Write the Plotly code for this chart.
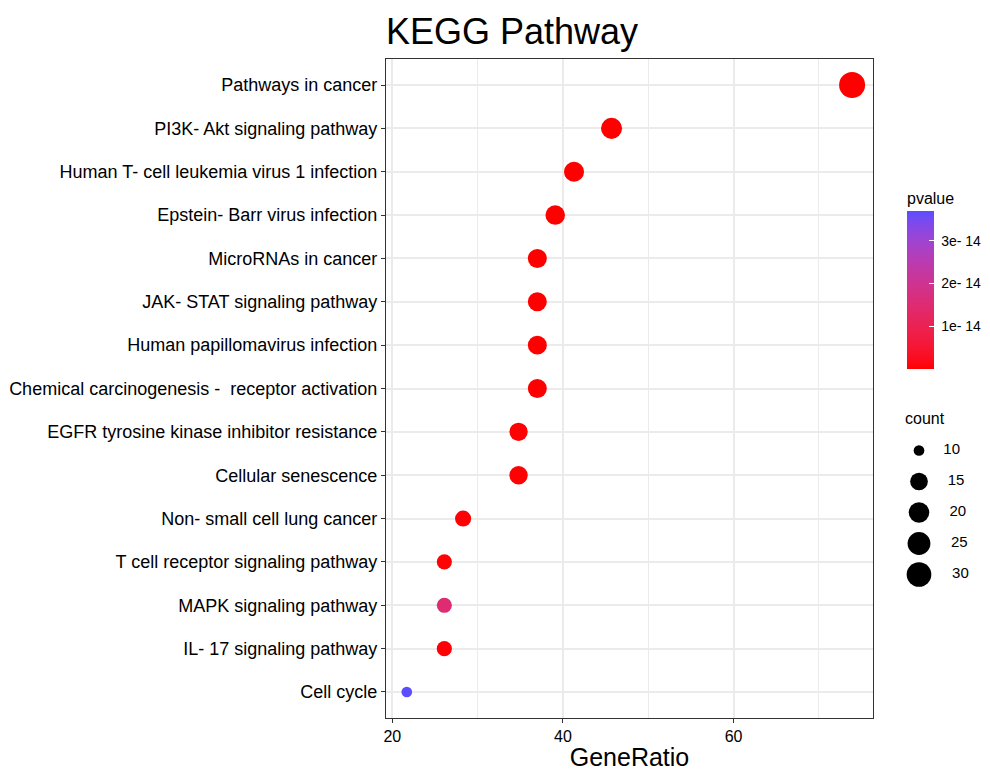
import plotly.graph_objects as go
import numpy as np

# ---------------- data ----------------
pathways = [
    "Pathways in cancer",
    "PI3K- Akt signaling pathway",
    "Human T- cell leukemia virus 1 infection",
    "Epstein- Barr virus infection",
    "MicroRNAs in cancer",
    "JAK- STAT signaling pathway",
    "Human papillomavirus infection",
    "Chemical carcinogenesis -  receptor activation",
    "EGFR tyrosine kinase inhibitor resistance",
    "Cellular senescence",
    "Non- small cell lung cancer",
    "T cell receptor signaling pathway",
    "MAPK signaling pathway",
    "IL- 17 signaling pathway",
    "Cell cycle",
]
gene_ratio = [73.9, 45.7, 41.3, 39.1, 37.0, 37.0, 37.0, 37.0, 34.8, 34.8, 28.3, 26.1, 26.1, 26.1, 21.7]
count = [34, 21, 19, 18, 17, 17, 17, 17, 16, 16, 13, 12, 12, 12, 10]
pvalue = [1e-25, 2e-17, 5e-17, 8e-17, 2e-17, 6e-17, 9e-17, 1e-16, 1.5e-16, 2e-16,
          3e-16, 4e-16, 1.5e-14, 3e-16, 3.7e-14]

legend_counts = [10, 15, 20, 25, 30]
cbar_ticks = [1e-14, 2e-14, 3e-14]
cbar_ticktext = ["1e- 14", "2e- 14", "3e- 14"]

# ---------------- styling helpers ----------------
LOW = (255, 0, 0)
HIGH = (90, 78, 255)

def _lin(c):
    c = c / 255.0
    return ((c + 0.055) / 1.055) ** 2.4 if c > 0.04045 else c / 12.92

def _gam(c):
    c = 1.055 * c ** (1 / 2.4) - 0.055 if c > 0.0031308 else 12.92 * c
    return max(0, min(255, round(c * 255)))

def rgb2lab(rgb):
    r, g, b = [_lin(v) for v in rgb]
    x = (0.4124 * r + 0.3576 * g + 0.1805 * b) / 0.95047
    y = (0.2126 * r + 0.7152 * g + 0.0722 * b)
    z = (0.0193 * r + 0.1192 * g + 0.9505 * b) / 1.08883
    f = lambda t: t ** (1 / 3) if t > 0.008856 else 7.787 * t + 16 / 116
    fx, fy, fz = f(x), f(y), f(z)
    return (116 * fy - 16, 500 * (fx - fy), 200 * (fy - fz))

def lab2rgb(lab):
    L, a, bb = lab
    fy = (L + 16) / 116
    fx = fy + a / 500
    fz = fy - bb / 200
    finv = lambda t: t ** 3 if t ** 3 > 0.008856 else (t - 16 / 116) / 7.787
    x, y, z = finv(fx) * 0.95047, finv(fy), finv(fz) * 1.08883
    r = 3.2406 * x - 1.5372 * y - 0.4986 * z
    g = -0.9689 * x + 1.8758 * y + 0.0415 * z
    b = 0.0557 * x - 0.2040 * y + 1.0570 * z
    return tuple(_gam(max(0, v)) for v in (r, g, b))

l1, l2 = rgb2lab(LOW), rgb2lab(HIGH)
colorscale = []
for t in np.linspace(0, 1, 21):
    lab = tuple(l1[i] + (l2[i] - l1[i]) * t for i in range(3))
    r, g, b = lab2rgb(lab)
    colorscale.append([float(t), f"rgb({r},{g},{b})"])

cmin_c, cmax_c = min(count), max(count)
def size_px(c):
    return 10.7 + (26.0 - 10.7) * np.sqrt((c - cmin_c) / (cmax_c - cmin_c))

# the page body has an 8px margin: work in screen pixels and subtract it
OFF = 8
W, H = 990 - OFF, 771 - OFF
PL, PR, PT, PB = 386, 873, 59, 718          # panel edges on screen
L_M, R_M, T_M, B_M = PL - OFF, 0, PT - OFF, 771 - PB
plot_w = W - L_M - R_M
plot_h = H - T_M - B_M
px_x = lambda px: (px - PL) / plot_w
px_y = lambda py: (PB - py) / plot_h

FONT = "Liberation Sans, Arial, Helvetica, sans-serif"

fig = go.Figure()

fig.add_trace(go.Scatter(
    x=gene_ratio, y=pathways, mode="markers",
    marker=dict(
        size=[size_px(c) for c in count], sizemode="diameter",
        color=pvalue, colorscale=colorscale,
        cmin=min(pvalue), cmax=max(pvalue), line=dict(width=0), opacity=1,
        colorbar=dict(
            title=dict(text="pvalue", side="top", font=dict(size=16, color="black", family=FONT)),
            tickvals=cbar_ticks, ticktext=[" " + t for t in cbar_ticktext],
            ticks="inside", ticklen=5, tickcolor="white", tickwidth=1,
            tickfont=dict(size=14, color="black", family=FONT),
            thickness=27, thicknessmode="pixels",
            len=180, lenmode="pixels",
            x=px_x(907), xanchor="left", xpad=0,
            y=px_y(369), yanchor="bottom", ypad=0,
            outlinewidth=0,
        ),
    ),
    showlegend=False, hoverinfo="x+y",
))

# size legend (drawn in its own small axes)
fig.add_trace(go.Scatter(
    x=[19] * len(legend_counts), y=list(range(len(legend_counts))),
    mode="markers+text", opacity=1,
    marker=dict(size=[size_px(c) for c in legend_counts], sizemode="diameter",
                color="#000000", opacity=1, line=dict(width=0)),
    text=[f"    {c}" for c in legend_counts], textposition="middle right",
    textfont=dict(size=15, color="black", family=FONT),
    xaxis="x2", yaxis="y2", showlegend=False, hoverinfo="skip", cliponaxis=False,
))

grid_major = "#EBEBEB"
fig.update_layout(
    width=W, height=H,
    margin=dict(l=L_M, r=R_M, t=T_M, b=B_M, autoexpand=False),
    paper_bgcolor="white", plot_bgcolor="white",
    font=dict(family=FONT, color="black"),
    title=dict(text="KEGG Pathway", x=(512 - OFF) / W, xanchor="center", xref="container",
               y=1 - (31 - OFF) / H, yanchor="middle", yref="container",
               font=dict(size=36, color="black", family=FONT)),
    xaxis=dict(
        domain=[0, (PR - PL) / plot_w],
        range=[19.26, 76.35], tick0=0, dtick=20,
        showgrid=True, gridcolor=grid_major, gridwidth=1.5,
        minor=dict(dtick=10, tick0=0, showgrid=True, gridcolor=grid_major, gridwidth=0.8, ticks=""),
        zeroline=False, showline=True, mirror=True, linecolor="#333333", linewidth=1.2,
        ticks="outside", ticklen=4, tickwidth=1.2, tickcolor="#333333",
        tickfont=dict(size=16, color="black"),
        title=dict(text="GeneRatio", font=dict(size=25, color="black"), standoff=5),
    ),
    yaxis=dict(
        type="category", categoryorder="array", categoryarray=pathways,
        range=[len(pathways) - 0.4, -0.6],
        showgrid=True, gridcolor=grid_major, gridwidth=1.5,
        zeroline=False, showline=True, mirror=True, linecolor="#333333", linewidth=1.2,
        ticks="outside", ticklen=4, tickwidth=1.2, tickcolor="#333333",
        tickfont=dict(size=18, color="black"),
    ),
    xaxis2=dict(domain=[px_x(900), px_x(980)], range=[0, 80], visible=False, fixedrange=True),
    yaxis2=dict(domain=[px_y(590), px_y(435)], range=[len(legend_counts) - 0.5, -0.5],
                visible=False, fixedrange=True, anchor="x2"),
    annotations=[dict(text="count", xref="paper", yref="paper", x=px_x(903), y=px_y(418),
                      xanchor="left", yanchor="middle", showarrow=False,
                      font=dict(size=16, color="black", family=FONT))],
)
fig.update_layout(xaxis2_anchor="y2")

fig.write_html("out.html")
